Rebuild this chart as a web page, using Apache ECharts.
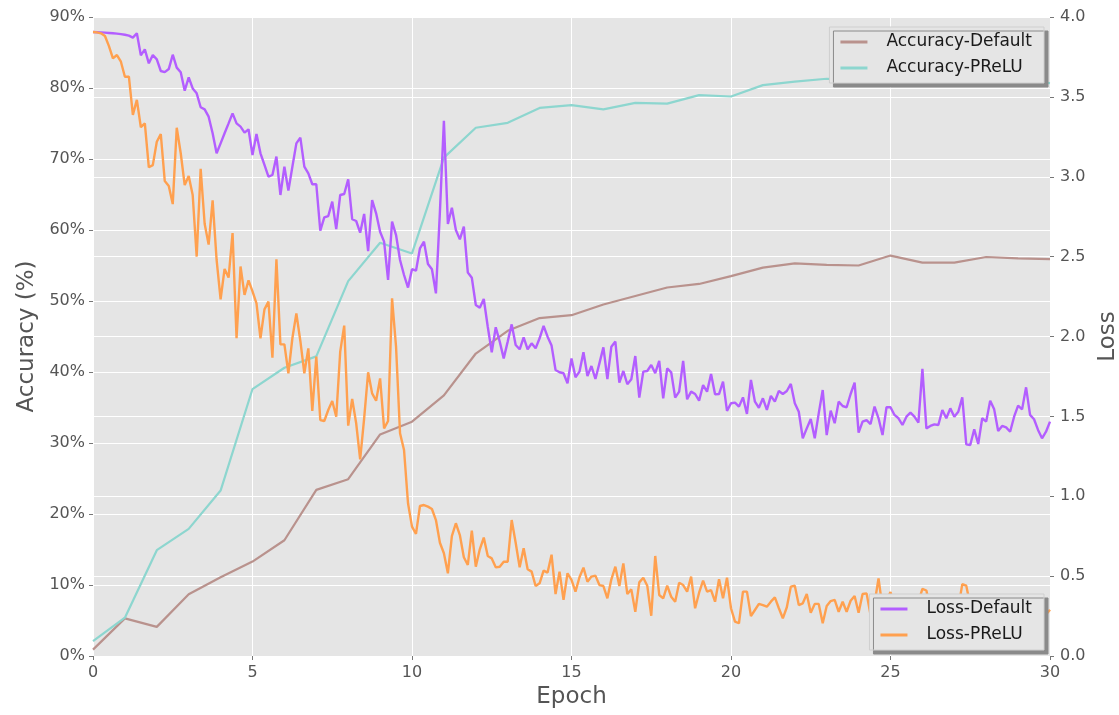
<!DOCTYPE html>
<html lang="en">
<head>
    <meta charset="utf-8">
    <title>Accuracy / Loss</title>
    <script src="https://cdn.jsdelivr.net/npm/echarts@6/dist/echarts.min.js"></script>
    <style>
        html, body { margin: 0; padding: 0; background: #fff; }
        #main { width: 1119px; height: 715px; }
    </style>
</head>
<body>
<div id="main"></div>
<script>
    // accuracy is logged once per epoch, loss 8 times per epoch
    const epochs = [0, 1, 2, 3, 4, 5, 6, 7, 8, 9, 10, 11, 12, 13, 14, 15,
        16, 17, 18, 19, 20, 21, 22, 23, 24, 25, 26, 27, 28, 29, 30];
    const stepsPerEpoch = 8;

    const accDefault = [0.9, 5.3, 4.1, 8.7, 11.1, 13.3, 16.3, 23.4, 24.9, 31.2, 33.0,
        36.7, 42.6, 45.8, 47.6, 48.0, 49.5, 50.7, 51.9, 52.4, 53.5,
        54.7, 55.3, 55.1, 55.0, 56.4, 55.4, 55.4, 56.2, 56.0, 55.9];

    const accPrelu = [2.1, 5.4, 14.9, 17.9, 23.3, 37.6, 40.6, 42.2, 52.8, 58.2, 56.7,
        70.2, 74.4, 75.1, 77.2, 77.6, 77.0, 77.9, 77.8, 79.0, 78.8,
        80.4, 80.9, 81.3, 81.1, 81.3, 81.2, 81.0, 81.3, 81.1, 80.7];

    const lossDefault = [
        3.906, 3.905, 3.904, 3.902, 3.900, 3.898, 3.896, 3.893, 3.889, 3.883, 3.871,
        3.898, 3.760, 3.797, 3.710, 3.762, 3.735, 3.662, 3.655, 3.674, 3.764,
        3.683, 3.654, 3.539, 3.622, 3.553, 3.522, 3.435, 3.422, 3.376, 3.272,
        3.147, 3.209, 3.272, 3.334, 3.397, 3.334, 3.314, 3.276, 3.297, 3.136,
        3.268, 3.147, 3.074, 3.001, 3.011, 3.126, 2.886, 3.063, 2.913, 3.063,
        3.209, 3.245, 3.063, 3.021, 2.953, 2.953, 2.662, 2.746, 2.754, 2.844,
        2.673, 2.886, 2.892, 2.984, 2.734, 2.723, 2.650, 2.767, 2.535, 2.854,
        2.771, 2.656, 2.594, 2.354, 2.719, 2.635, 2.479, 2.385, 2.306, 2.421,
        2.412, 2.552, 2.594, 2.454, 2.421, 2.270, 2.780, 3.351, 2.704, 2.806,
        2.667, 2.608, 2.688, 2.400, 2.368, 2.197, 2.180, 2.235, 2.061, 1.901,
        2.058, 1.968, 1.863, 1.968, 2.076, 1.947, 1.920, 1.995, 1.920, 1.957,
        1.926, 1.989, 2.066, 1.999, 1.943, 1.790, 1.776, 1.770, 1.707, 1.863,
        1.745, 1.780, 1.901, 1.753, 1.815, 1.734, 1.832, 1.932, 1.734, 1.936,
        1.968, 1.711, 1.784, 1.701, 1.732, 1.878, 1.617, 1.780, 1.784, 1.822,
        1.770, 1.847, 1.613, 1.801, 1.776, 1.617, 1.655, 1.847, 1.607, 1.655,
        1.640, 1.598, 1.696, 1.655, 1.765, 1.638, 1.640, 1.717, 1.534, 1.582,
        1.586, 1.561, 1.619, 1.515, 1.728, 1.592, 1.554, 1.613, 1.540, 1.628,
        1.592, 1.659, 1.640, 1.659, 1.703, 1.582, 1.529, 1.363, 1.425, 1.484,
        1.363, 1.519, 1.665, 1.383, 1.536, 1.457, 1.592, 1.565, 1.557, 1.640,
        1.711, 1.398, 1.467, 1.477, 1.452, 1.561, 1.488, 1.383, 1.557, 1.557,
        1.509, 1.488, 1.446, 1.498, 1.523, 1.498, 1.461, 1.797, 1.425, 1.440,
        1.450, 1.446, 1.540, 1.488, 1.550, 1.498, 1.529, 1.619, 1.325, 1.321,
        1.419, 1.327, 1.488, 1.467, 1.598, 1.544, 1.408, 1.440, 1.431, 1.404,
        1.498, 1.567, 1.544, 1.682, 1.509, 1.482, 1.415, 1.363, 1.404, 1.467
    ];

    const lossPrelu = [
        3.906, 3.904, 3.898, 3.881, 3.818, 3.741, 3.762, 3.720, 3.626, 3.626, 3.387,
        3.481, 3.310, 3.334, 3.059, 3.073, 3.219, 3.267, 2.973, 2.942, 2.829,
        3.307, 3.147, 2.948, 3.005, 2.886, 2.500, 3.049, 2.706, 2.575, 2.852,
        2.479, 2.233, 2.423, 2.369, 2.647, 1.990, 2.438, 2.261, 2.351, 2.282,
        2.208, 1.989, 2.170, 2.218, 1.867, 2.483, 1.951, 1.951, 1.770, 1.989,
        2.145, 1.972, 1.770, 1.926, 1.534, 1.874, 1.477, 1.471, 1.540, 1.596,
        1.498, 1.905, 2.068, 1.442, 1.609, 1.457, 1.231, 1.488, 1.776, 1.644,
        1.598, 1.738, 1.425, 1.471, 2.239, 1.936, 1.394, 1.290, 0.956, 0.810,
        0.764, 0.939, 0.945, 0.935, 0.920, 0.851, 0.709, 0.643, 0.518, 0.751,
        0.831, 0.757, 0.618, 0.570, 0.784, 0.559, 0.668, 0.741, 0.626, 0.611,
        0.555, 0.559, 0.590, 0.590, 0.851, 0.709, 0.555, 0.674, 0.543, 0.528,
        0.438, 0.455, 0.534, 0.522, 0.634, 0.388, 0.528, 0.351, 0.518, 0.476,
        0.403, 0.493, 0.553, 0.465, 0.497, 0.503, 0.444, 0.438, 0.361, 0.480,
        0.559, 0.438, 0.580, 0.388, 0.417, 0.277, 0.461, 0.490, 0.440, 0.252,
        0.626, 0.382, 0.361, 0.440, 0.371, 0.340, 0.459, 0.444, 0.403, 0.497,
        0.299, 0.396, 0.472, 0.403, 0.413, 0.340, 0.480, 0.361, 0.490, 0.299,
        0.215, 0.205, 0.403, 0.403, 0.250, 0.288, 0.326, 0.319, 0.309, 0.340,
        0.367, 0.299, 0.236, 0.305, 0.434, 0.440, 0.319, 0.330, 0.388, 0.271,
        0.326, 0.326, 0.205, 0.313, 0.344, 0.351, 0.277, 0.340, 0.277, 0.346,
        0.376, 0.271, 0.388, 0.392, 0.257, 0.330, 0.486, 0.300, 0.350, 0.400,
        0.310, 0.360, 0.280, 0.330, 0.380, 0.300, 0.340, 0.420, 0.410, 0.290,
        0.350, 0.310, 0.370, 0.270, 0.330, 0.360, 0.300, 0.450, 0.440, 0.320,
        0.350, 0.280, 0.330, 0.300, 0.370, 0.310, 0.260, 0.340, 0.310, 0.360,
        0.290, 0.320, 0.270, 0.350, 0.300, 0.330, 0.280, 0.310, 0.260, 0.290
    ];

    const xTicks = [0, 5, 10, 15, 20, 25, 30];

    const COLORS = {
        accDefault: '#b9928d',
        accPrelu: '#8dd6cf',
        lossDefault: '#b35eff',
        lossPrelu: '#ffa04f'
    };
    const FONT = 'DejaVu Sans';

    function perEpoch(values) {
        return values.map(function (v, i) { return [epochs[i], v]; });
    }

    function perStep(values) {
        return values.map(function (v, i) { return [i / stepsPerEpoch, v]; });
    }

    function legendBox(names, pos) {
        return Object.assign({
            data: names,
            orient: 'vertical',
            right: 75,
            icon: 'rect',
            itemWidth: 27,
            itemHeight: 3,
            itemGap: 6,
            padding: [5, 12, 5, 11],
            backgroundColor: '#e5e5e5',
            borderColor: '#cfcfcf',
            borderWidth: 1,
            shadowColor: '#8a8a8a',
            shadowBlur: 0,
            shadowOffsetX: 4,
            shadowOffsetY: 4,
            textStyle: {
                fontFamily: FONT,
                fontSize: 17,
                color: '#1a1a1a',
                lineHeight: 20,
                padding: [0, 0, 0, 14]
            }
        }, pos);
    }

    const axisCommon = {
        axisLine: { show: true, lineStyle: { color: 'rgba(0,0,0,0)' } },
        axisTick: { show: true, length: 4, lineStyle: { color: '#777' } },
        axisLabel: { fontFamily: FONT, fontSize: 16, color: '#555', margin: 8 },
        splitLine: { show: true, lineStyle: { color: '#ffffff', width: 1 } },
        nameLocation: 'middle',
        nameTextStyle: { fontFamily: FONT, fontSize: 23, color: '#555' }
    };

    let myChart = echarts.init(document.getElementById('main'));
    let option = {
        animation: false,
        backgroundColor: '#ffffff',
        grid: {
            left: 93, right: 69, top: 17, bottom: 59,
            outerBoundsMode: 'none',
            show: true, backgroundColor: '#e5e5e5', borderWidth: 0
        },
        legend: [
            legendBox(['Accuracy-Default', 'Accuracy-PReLU'], { top: 27 }),
            legendBox(['Loss-Default', 'Loss-PReLU'], { top: 594 })
        ],
        xAxis: Object.assign({}, axisCommon, {
            type: 'value',
            min: xTicks[0],
            max: xTicks[xTicks.length - 1],
            interval: xTicks[1] - xTicks[0],
            name: 'Epoch',
            nameGap: 30,
            axisLabel: Object.assign({}, axisCommon.axisLabel, { margin: 9 })
        }),
        yAxis: [
            Object.assign({}, axisCommon, {
                type: 'value',
                min: 0, max: 90, interval: 10,
                name: 'Accuracy (%)',
                nameGap: 50,
                axisLabel: Object.assign({}, axisCommon.axisLabel, { formatter: '{value}%' })
            }),
            Object.assign({}, axisCommon, {
                type: 'value',
                position: 'right',
                min: 0, max: 4, interval: 0.5,
                name: 'Loss',
                nameGap: 45,
                axisLabel: Object.assign({}, axisCommon.axisLabel, {
                    margin: 10,
                    formatter: function (v) { return v.toFixed(1); }
                })
            })
        ],
        series: [
            {
                name: 'Accuracy-Default', type: 'line', yAxisIndex: 0,
                showSymbol: false, symbol: 'none',
                lineStyle: { width: 2.2, color: COLORS.accDefault },
                itemStyle: { color: COLORS.accDefault },
                data: perEpoch(accDefault)
            },
            {
                name: 'Accuracy-PReLU', type: 'line', yAxisIndex: 0,
                showSymbol: false, symbol: 'none',
                lineStyle: { width: 2.2, color: COLORS.accPrelu },
                itemStyle: { color: COLORS.accPrelu },
                data: perEpoch(accPrelu)
            },
            {
                name: 'Loss-Default', type: 'line', yAxisIndex: 1,
                showSymbol: false, symbol: 'none',
                lineStyle: { width: 2.4, color: COLORS.lossDefault },
                itemStyle: { color: COLORS.lossDefault },
                data: perStep(lossDefault)
            },
            {
                name: 'Loss-PReLU', type: 'line', yAxisIndex: 1,
                showSymbol: false, symbol: 'none',
                lineStyle: { width: 2.4, color: COLORS.lossPrelu },
                itemStyle: { color: COLORS.lossPrelu },
                data: perStep(lossPrelu)
            }
        ]
    };
    myChart.setOption(option);
</script>
</body>
</html>
